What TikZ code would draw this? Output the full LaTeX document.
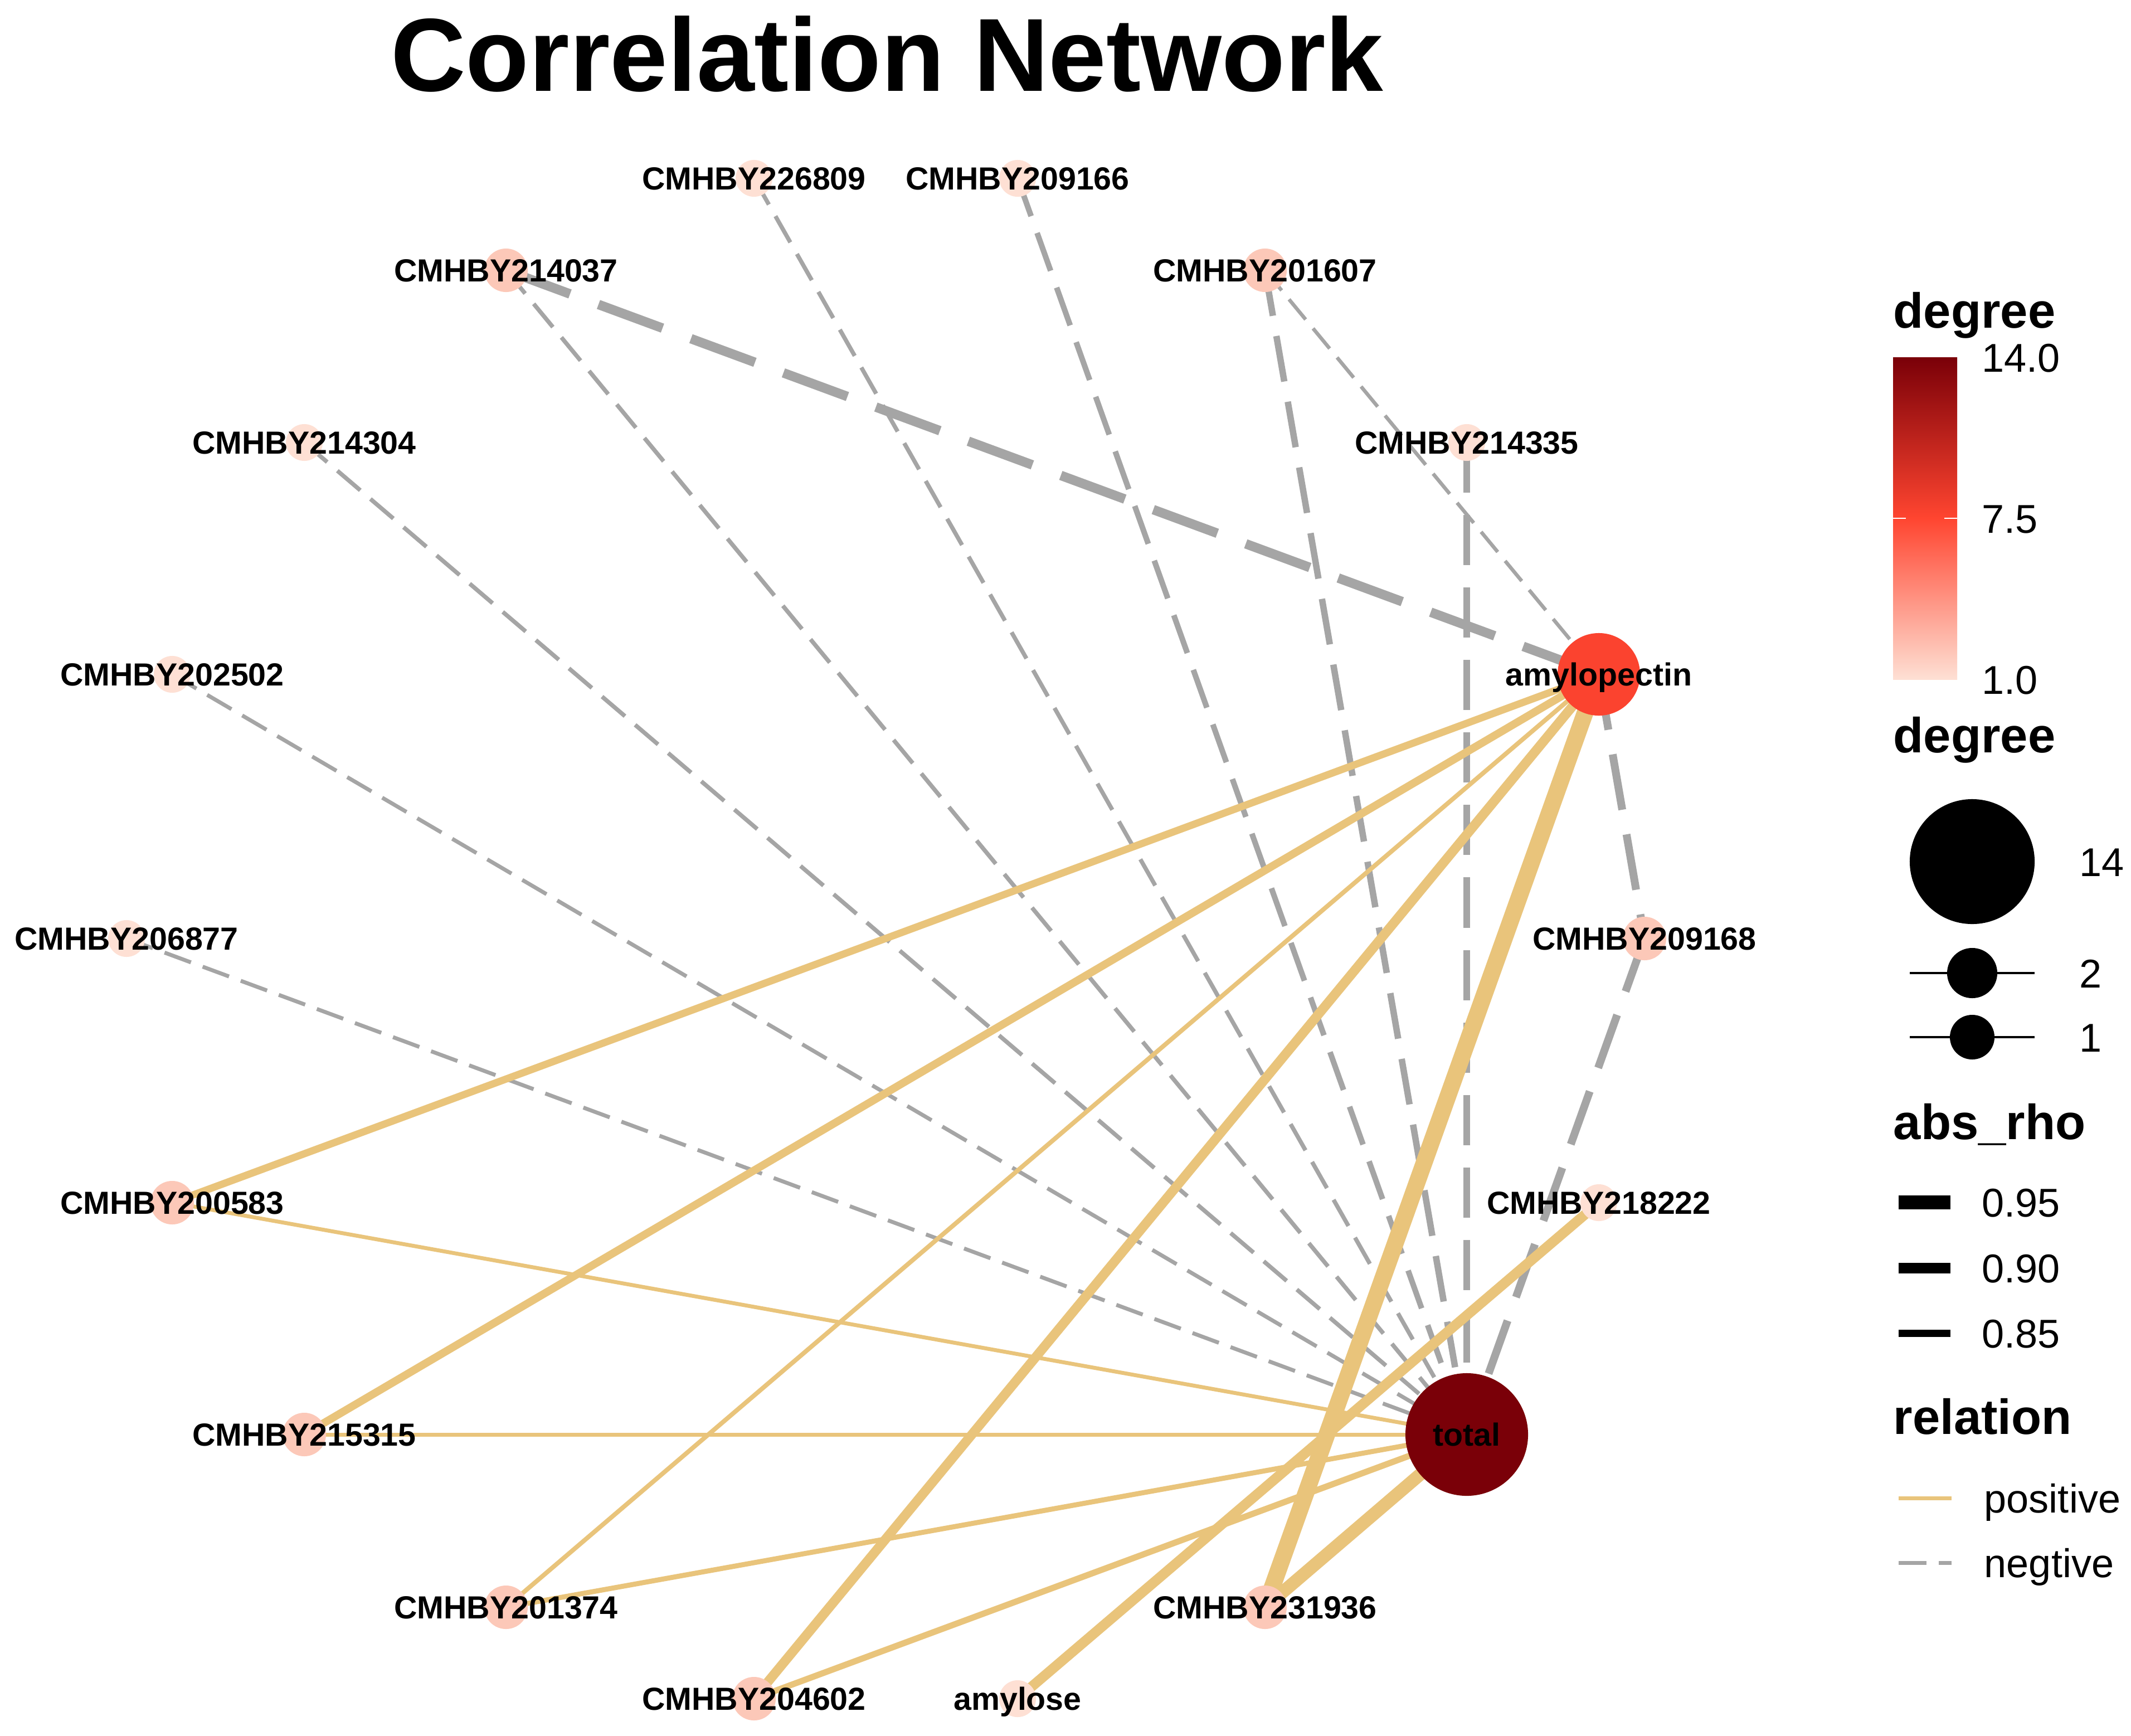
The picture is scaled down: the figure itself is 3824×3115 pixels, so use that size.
\documentclass[tikz,border=0pt]{standalone}
\usepackage{fontspec}
\setmainfont{Liberation Sans}
\pgfdeclarelayer{bglayer}
\pgfdeclarelayer{edgelayer}
\pgfsetlayers{bglayer,edgelayer,main}
\definecolor{posc}{HTML}{E9C47B}
\definecolor{negc}{HTML}{A5A5A5}
\definecolor{dlow}{HTML}{FEE0D4}
\definecolor{dtwo}{HTML}{FCC8B8}
\definecolor{dmid}{HTML}{FF4530}
\definecolor{damy}{HTML}{FB432F}
\definecolor{dhigh}{HTML}{7A0008}
\tikzset{
  vtx/.style={circle, inner sep=0pt, draw=none},
  vone/.style={vtx, minimum size=0.66cm, fill=dlow},
  vtwo/.style={vtx, minimum size=0.78cm, fill=dtwo},
  lab/.style={font=\fontsize{16.3}{18}\selectfont\bfseries, inner sep=0pt, anchor=base},
  negw/.style={draw=negc, line width=#1*0.01cm, dash pattern=on #1*0.072cm off #1*0.032cm},
  posw/.style={draw=posc, line width=#1*0.01cm},
  ltitle/.style={font=\fontsize{25.2}{30}\selectfont\bfseries, anchor=base west, inner sep=0pt},
  ltext/.style={font=\fontsize{20.5}{24}\selectfont, anchor=base west, inner sep=0pt},
}
\begin{document}
\begin{tikzpicture}[x=0.01cm, y=-0.01cm]
\begin{pgfonlayer}{bglayer}
\fill[white] (0,0) rectangle (3824,3115);
\end{pgfonlayer}
\useasboundingbox (0,0) rectangle (3824,3115);

% title
\node[font=\fontsize{53}{60}\selectfont\bfseries, anchor=base, inner sep=0pt] (title) at (1592,164) {Correlation Network};

% vertices
\node[vtwo] (n209168) at (2951,1684) {};
\node[vtx, minimum size=1.48cm, fill=damy] (namylopectin) at (2869,1210) {};
\node[vone] (n214335) at (2632,794) {};
\node[vtwo] (n201607) at (2270,485) {};
\node[vone] (n209166) at (1826,320) {};
\node[vone] (n226809) at (1353,320) {};
\node[vtwo] (n214037) at (908,485) {};
\node[vone] (n214304) at (546,794) {};
\node[vone] (n202502) at (309,1210) {};
\node[vone] (n206877) at (227,1684) {};
\node[vtwo] (n200583) at (309,2158) {};
\node[vtwo] (n215315) at (546,2574) {};
\node[vtwo] (n201374) at (908,2884) {};
\node[vtwo] (n204602) at (1353,3048) {};
\node[vone] (namylose) at (1826,3048) {};
\node[vtwo] (n231936) at (2270,2884) {};
\node[vtx, minimum size=2.2cm, fill=dhigh] (ntotal) at (2632,2574) {};
\node[vone] (n218222) at (2869,2158) {};

% labels
\foreach \n/\t in {209168/CMHBY209168, amylopectin/amylopectin, 214335/CMHBY214335,
  201607/CMHBY201607, 209166/CMHBY209166, 226809/CMHBY226809, 214037/CMHBY214037,
  214304/CMHBY214304, 202502/CMHBY202502, 206877/CMHBY206877, 200583/CMHBY200583,
  215315/CMHBY215315, 201374/CMHBY201374, 204602/CMHBY204602, amylose/amylose,
  231936/CMHBY231936, total/total, 218222/CMHBY218222}
  \node[lab] (l\n) at ([yshift=-0.205cm]n\n.center) {\t};

% edges
\begin{pgfonlayer}{edgelayer}
\draw[negw=17] (n214037.center) -- (namylopectin.center);
\draw[negw=14] (n209168.center) -- (ntotal.center);
\draw[negw=14] (namylopectin.center) -- (n209168.center);
\draw[negw=12.5] (n214335.center) -- (ntotal.center);
\draw[negw=11.5] (n201607.center) -- (ntotal.center);
\draw[negw=10] (n209166.center) -- (ntotal.center);
\draw[negw=7.5] (n214037.center) -- (ntotal.center);
\draw[negw=7.5] (n226809.center) -- (ntotal.center);
\draw[negw=7.5] (n214304.center) -- (ntotal.center);
\draw[negw=6.5] (n201607.center) -- (namylopectin.center);
\draw[negw=7] (n202502.center) -- (ntotal.center);
\draw[negw=7] (n206877.center) -- (ntotal.center);

\draw[posw=30] (n231936.center) -- (namylopectin.center);
\draw[posw=23] (n231936.center) -- (ntotal.center);
\draw[posw=18] (n218222.center) -- (namylose.center);
\draw[posw=17] (n204602.center) -- (namylopectin.center);
\draw[posw=14] (n215315.center) -- (namylopectin.center);
\draw[posw=13] (n200583.center) -- (namylopectin.center);
\draw[posw=11] (n204602.center) -- (ntotal.center);
\draw[posw=9] (n201374.center) -- (ntotal.center);
\draw[posw=8] (n201374.center) -- (namylopectin.center);
\draw[posw=7] (n200583.center) -- (ntotal.center);
\draw[posw=7] (n215315.center) -- (ntotal.center);
\end{pgfonlayer}

% legend: colour bar
\node[ltitle] (lgdeg1) at (3397,588) {degree};
\shade[top color=dhigh, bottom color=dlow, middle color=dmid] (3397,641) rectangle (3512,1219);
\draw[white, line width=0.02cm] (3397,930) -- (3420,930) (3489,930) -- (3512,930);
\node[ltext] (cb14) at (3556,667) {14.0};
\node[ltext] (cb75) at (3556,956) {7.5};
\node[ltext] (cb1) at (3556,1245) {1.0};

% legend: size
\node[ltitle] (lgdeg2) at (3397,1350) {degree};
\node[vtx, fill=black, minimum size=2.24cm] (k14) at (3539,1546) {};
\coordinate (k2a) at (3427,1746); \coordinate (k2b) at (3651,1746);
\coordinate (k1a) at (3427,1861); \coordinate (k1b) at (3651,1861);
\draw[black, line width=0.04cm] (k2a) -- (k2b);
\draw[black, line width=0.04cm] (k1a) -- (k1b);
\node[vtx, fill=black, minimum size=0.9cm] (k2) at (3539,1746) {};
\node[vtx, fill=black, minimum size=0.8cm] (k1) at (3539,1861) {};
\node[ltext] (t14) at (3731,1572) {14};
\node[ltext] (t2) at (3731,1772) {2};
\node[ltext] (t1) at (3731,1887) {1};

% legend: abs_rho
\node[ltitle] (lgrho) at (3397,2044) {abs\_rho};
\coordinate (r95a) at (3407,2157); \coordinate (r95b) at (3500,2157);
\coordinate (r90a) at (3407,2275); \coordinate (r90b) at (3500,2275);
\coordinate (r85a) at (3407,2392); \coordinate (r85b) at (3500,2392);
\draw[black, line width=0.25cm] (r95a) -- (r95b);
\draw[black, line width=0.19cm] (r90a) -- (r90b);
\draw[black, line width=0.13cm] (r85a) -- (r85b);
\node[ltext] (t95) at (3556,2183) {0.95};
\node[ltext] (t90) at (3556,2301) {0.90};
\node[ltext] (t85) at (3556,2418) {0.85};

% legend: relation
\node[ltitle] (lgrel) at (3397,2573) {relation};
\coordinate (pa) at (3407,2688); \coordinate (pb) at (3502,2688);
\coordinate (na) at (3407,2804); \coordinate (nb) at (3502,2804);
\draw[posw=7] (pa) -- (pb);
\draw[draw=negc, line width=0.07cm, dash pattern=on 0.5cm off 0.22cm] (na) -- (nb);
\node[ltext] (tpos) at (3560,2714) {positive};
\node[ltext] (tneg) at (3560,2830) {negtive};
\end{tikzpicture}
\end{document}
